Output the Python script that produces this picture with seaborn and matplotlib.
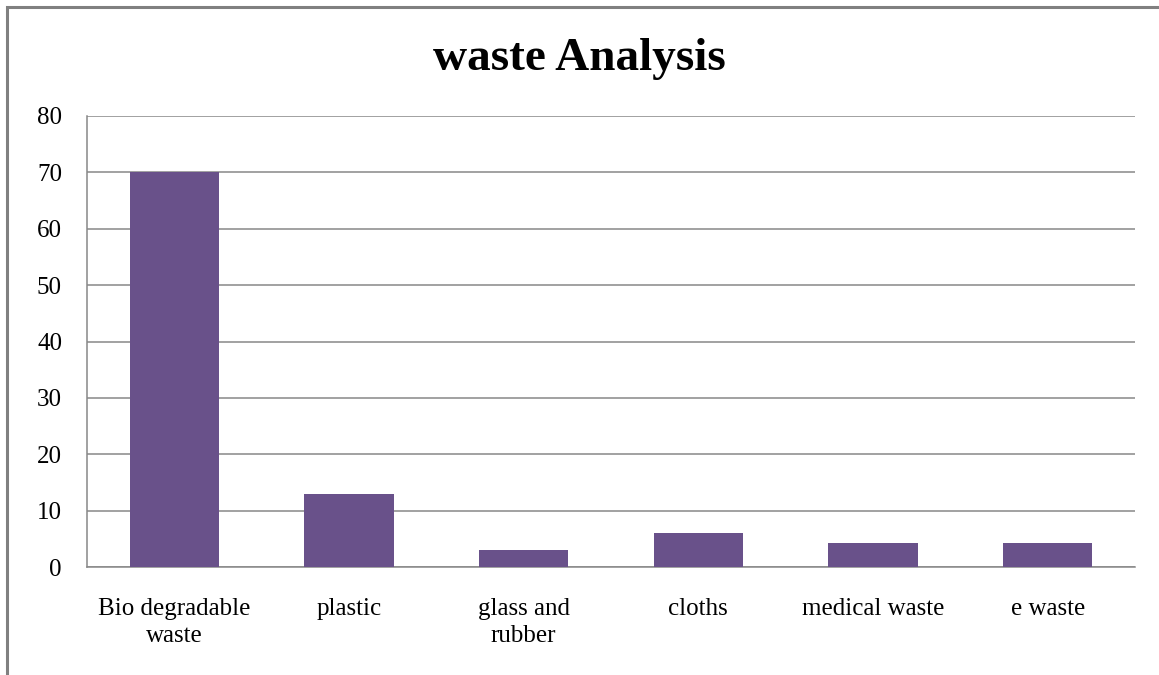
import pandas as pd
import matplotlib.pyplot as plt
import seaborn as sns
from matplotlib.patches import Rectangle

# data
categories = ['Bio degradable\nwaste', 'plastic', 'glass and\nrubber', 'cloths', 'medical waste', 'e waste']
values = [70, 13, 3, 6, 4.25, 4.25]
y_ticks = [0, 10, 20, 30, 40, 50, 60, 70, 80]

bar_color = '#69518A'
grid_color = '#888888'

df = pd.DataFrame({'Category': categories, 'Value': values})

sns.set_theme(style='white')
plt.rcParams['font.family'] = ['Liberation Serif', 'DejaVu Serif']
plt.rcParams['text.color'] = 'black'

fig = plt.figure(figsize=(11.59, 6.75), dpi=100)
ax = fig.add_axes([87 / 1159, 1 - 567 / 675, (1135 - 87) / 1159, (567 - 116) / 675])

sns.barplot(data=df, x='Category', y='Value', color=bar_color, width=0.51,
            saturation=1, linewidth=0, ax=ax, zorder=3)

ax.set_ylim(0, 80)
ax.set_yticks(y_ticks)
ax.yaxis.grid(True, color=grid_color, linewidth=1.1, zorder=0)
ax.set_axisbelow(True)
ax.set_xlabel('')
ax.set_ylabel('')

for side in ['top', 'right']:
    ax.spines[side].set_visible(False)
for side in ['left', 'bottom']:
    ax.spines[side].set_color(grid_color)
    ax.spines[side].set_linewidth(1.1)

ax.tick_params(axis='y', length=0, pad=18, labelsize=18, labelcolor='black')
ax.tick_params(axis='x', length=0, pad=22, labelsize=18, labelcolor='black')
for lbl in ax.get_xticklabels():
    lbl.set_linespacing(1.3)

fig.text(0.5, 1 - 59 / 675, 'waste Analysis', ha='center', va='center',
         fontsize=34, fontweight='bold', color='black')

# outer chart frame, cut off at the right and bottom like the source image
frame = Rectangle((7 / 1159, -0.1), 1.2, 1.1 - 7 / 675, transform=fig.transFigure,
                  fill=False, edgecolor='#808080', linewidth=2.2)
fig.patches.append(frame)

fig.savefig('out.png', dpi=100)
